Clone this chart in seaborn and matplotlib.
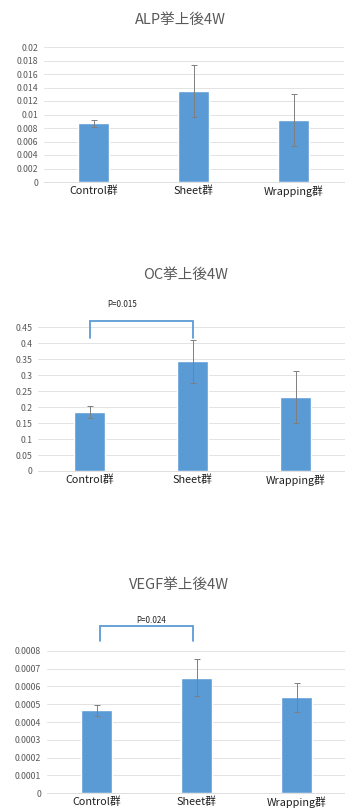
import numpy as np
import pandas as pd
import seaborn as sns
import matplotlib.pyplot as plt

groups = ['Control群', 'Sheet群', 'Wrapping群']

alp_mean = [0.0087, 0.0135, 0.0092]
alp_err = [0.0005, 0.0039, 0.0038]
alp_ticks = [0, 0.002, 0.004, 0.006, 0.008, 0.01, 0.012, 0.014, 0.016, 0.018, 0.02]
alp_tick_labels = ['0', '0.002', '0.004', '0.006', '0.008', '0.01', '0.012', '0.014', '0.016', '0.018', '0.02']

oc_mean = [0.186, 0.343, 0.231]
oc_err = [0.019, 0.067, 0.082]
oc_ticks = [0, 0.05, 0.1, 0.15, 0.2, 0.25, 0.3, 0.35, 0.4, 0.45]
oc_tick_labels = ['0', '0.05', '0.1', '0.15', '0.2', '0.25', '0.3', '0.35', '0.4', '0.45']

vegf_mean = [0.000465, 0.000649, 0.000538]
vegf_err = [0.00003, 0.000103, 0.000082]
vegf_ticks = [0, 0.0001, 0.0002, 0.0003, 0.0004, 0.0005, 0.0006, 0.0007, 0.0008]
vegf_tick_labels = ['0', '0.0001', '0.0002', '0.0003', '0.0004', '0.0005', '0.0006', '0.0007', '0.0008']

sns.set_style('white')
plt.rcParams['font.family'] = ['Noto Sans CJK JP', 'DejaVu Sans']

BLUE = '#5B9BD5'
GRID = '#DEDEDE'
GRAY = '#595959'

fig = plt.figure(figsize=(3.45, 8.1), dpi=100)


def panel(rect, title, title_xy, means, errs, ticks, tick_labels, bracket=None):
    ax = fig.add_axes(rect)
    df = pd.DataFrame({'group': groups, 'value': means})
    sns.barplot(data=df, x='group', y='value', color=BLUE, saturation=1,
                width=0.31, errorbar=None, ax=ax, zorder=3)
    ax.errorbar(x=np.arange(3), y=means, yerr=errs, fmt='none',
                ecolor='#7F7F7F', elinewidth=0.7, capsize=2.2, capthick=0.7, zorder=4)
    ax.set_xlim(-0.5, 2.5)
    ax.set_ylim(0, ticks[-1])
    ax.set_yticks(ticks)
    ax.set_yticklabels(tick_labels)
    ax.yaxis.grid(True, color=GRID, lw=0.6, zorder=0)
    for s in ['top', 'right', 'left']:
        ax.spines[s].set_visible(False)
    ax.spines['bottom'].set_color(GRID)
    ax.spines['bottom'].set_linewidth(0.7)
    ax.tick_params(axis='y', length=0, labelsize=6.3, labelcolor=GRAY, pad=4)
    ax.tick_params(axis='x', length=0, labelsize=7.8, labelcolor='#1F1F1F', pad=2.2)
    ax.set_xlabel('')
    ax.set_ylabel('')
    fig.text(title_xy[0] / 345, 1 - title_xy[1] / 810, title, ha='center', va='center',
             fontsize=10.5, color=GRAY)
    if bracket is not None:
        x0, x1, y_top, y_leg, label, lx, ly = bracket
        ax.plot([x0, x0, x1, x1], [y_leg, y_top, y_top, y_leg], color=BLUE, lw=1.3,
                clip_on=False, solid_joinstyle='miter')
        ax.text(lx, ly, label, ha='center', va='center', fontsize=5.8, color='#262626')
    return ax


panel([43.5 / 345, 1 - 182 / 810, 300 / 345, 135 / 810], 'ALP挙上後4W', (180, 20),
      alp_mean, alp_err, alp_ticks, alp_tick_labels)

panel([38 / 345, 1 - 471 / 810, 309 / 345, 143.7 / 810], 'OC挙上後4W', (186, 275),
      oc_mean, oc_err, oc_ticks, oc_tick_labels,
      bracket=(0, 1, 0.471, 0.4155, 'P=0.015', 0.32, 0.522))

panel([46.5 / 345, 1 - 793.3 / 810, 300 / 345, 142.6 / 810], 'VEGF挙上後4W', (179, 585),
      vegf_mean, vegf_err, vegf_ticks, vegf_tick_labels,
      bracket=(0.03, 0.96, 0.000938, 0.000856, 'P=0.024', 0.55, 0.000972))

fig.savefig('out.png', dpi=100)
